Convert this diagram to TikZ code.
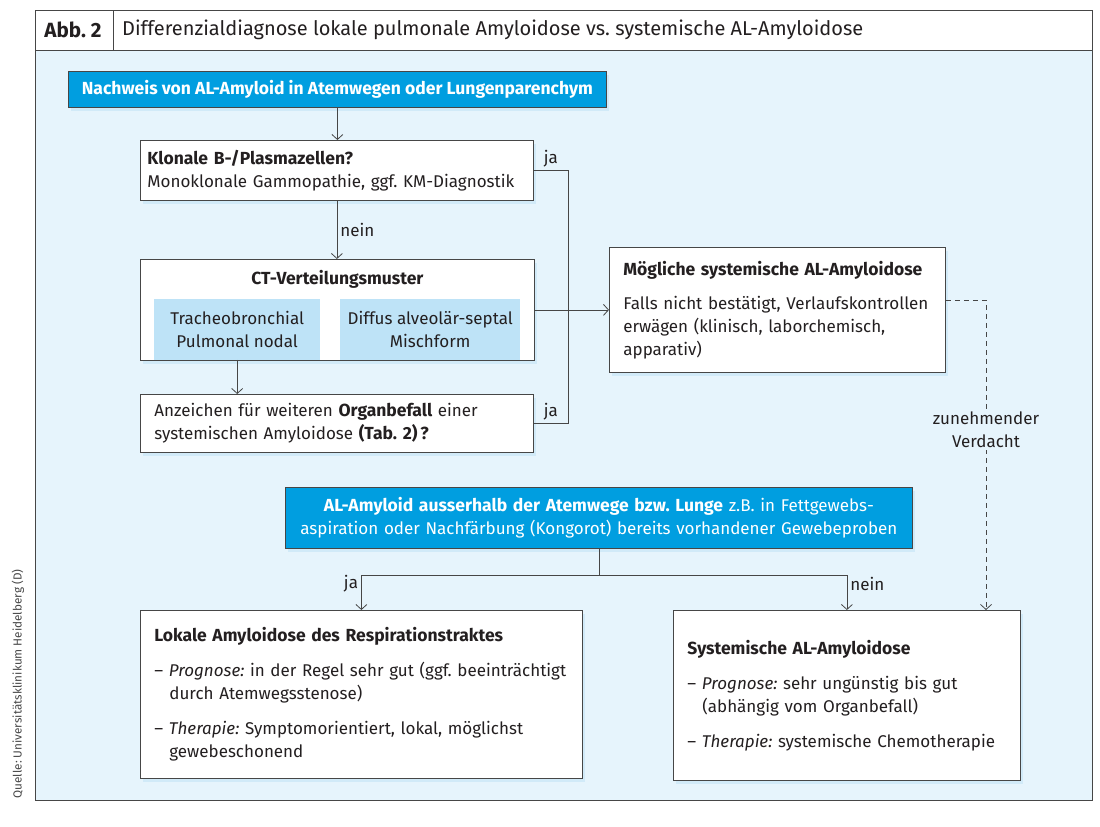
\documentclass[tikz,border=0pt]{standalone}
\usepackage{fontspec}
\setmainfont{Fira Sans}[BoldFeatures={Scale=1.03}]
\usetikzlibrary{arrows.meta, shadows}
\frenchspacing

\definecolor{bgblue}{RGB}{230,244,252}
\definecolor{boxblue}{RGB}{0,158,224}
\definecolor{innerblue}{RGB}{190,227,247}
\definecolor{shadowblue}{RGB}{190,225,245}
\definecolor{linegray}{RGB}{70,70,70}
\definecolor{txtgray}{RGB}{35,31,32}

\begin{document}
\begin{tikzpicture}[x=1pt, y=-1pt,
  >={Straight Barb[length=5pt, width=11pt]},
  every node/.style={font=\fontsize{17}{23}\selectfont, text=txtgray},
  box/.style={draw=linegray, fill=white, line width=0.8pt, anchor=north west,
    inner xsep=14pt, align=left,
    drop shadow={fill=shadowblue, shadow xshift=3pt, shadow yshift=-4pt}},
  bluebox/.style={box, fill=boxblue, text=white},
  innerbox/.style={fill=innerblue, anchor=north west, align=center, inner sep=0pt},
  conn/.style={draw=linegray, line width=0.8pt},
  lbl/.style={inner sep=3pt}
]
\useasboundingbox (0,0) rectangle (1100,827);

% frame and header
\fill[bgblue] (35,50) rectangle (1092,800);
\draw[linegray, line width=0.8pt] (35,10) rectangle (1092,800);
\draw[linegray, line width=0.8pt] (35,50) -- (1092,50);
\draw[linegray, line width=0.8pt] (113,10) -- (113,50);
\node[font=\fontsize{20}{22}\selectfont\bfseries] (abb) at (73,30) {Abb. 2};
\node[font=\fontsize{20}{22}\selectfont, anchor=west, inner xsep=0pt] (title) at (122,30) {Differenzialdiagnose lokale pulmonale Amyloidose vs. systemische AL-Amyloidose};
\node[font=\fontsize{11.7}{13}\selectfont, text=linegray, rotate=90] (quelle) at (18,684) {Quelle: Universitätsklinikum Heidelberg (D)};

% upper part
\node[bluebox, minimum width=538, minimum height=36, inner xsep=7pt, font=\fontsize{17}{23}\selectfont\bfseries] (nachweis) at (68,71) {Nachweis von AL-Amyloid in Atemwegen oder Lungenparenchym};
\node[box, minimum width=393, minimum height=60, inner xsep=7pt, text width=379pt] (klon) at (140,140) {\textbf{Klonale B-/Plasmazellen?}\\Monoklonale Gammopathie, ggf. KM-Diagnostik};
\node[box, minimum width=394, minimum height=101] (ct) at (140,259) {};
\node[anchor=north, font=\fontsize{17}{23}\selectfont\bfseries] (cttitle) at ([yshift=-8pt]ct.north) {CT-Verteilungsmuster};
\node[innerbox, minimum width=166, minimum height=60.5] (tb) at (154,299) {Tracheobronchial\\Pulmonal nodal};
\node[innerbox, minimum width=180, minimum height=60.5] (da) at (340,299) {Diffus alveolär-septal\\Mischform};
\node[box, minimum width=393, minimum height=58, text width=365pt] (anz) at (140,394) {Anzeichen für weiteren \textbf{Organbefall} einer\\systemischen Amyloidose \textbf{(Tab. 2)\,?}};
\node[box, minimum width=336, minimum height=125, text width=308pt] (moeg) at (609,247) {\textbf{Mögliche systemische AL-Amyloidose}\\[11pt]Falls nicht bestätigt, Verlaufskontrollen\\erwägen (klinisch, laborchemisch,\\apparativ)};

% lower part
\node[bluebox, minimum width=627, minimum height=61, inner xsep=7pt, text width=613pt, align=center] (al) at (285,487) {\textbf{AL-Amyloid ausserhalb der Atemwege bzw. Lunge} z.B. in Fettgewebs-\\aspiration oder Nachfärbung (Kongorot) bereits vorhandener Gewebeproben};
\node[box, minimum width=442, minimum height=168, text width=414pt] (lok) at (140,610) {\textbf{Lokale Amyloidose des Respirationstraktes}\\[12pt]– \textit{Prognose:} in der Regel sehr gut (ggf. beeinträchtigt\\\hspace*{15pt}durch Atemwegsstenose)\\[12pt]– \textit{Therapie:} Symptomorientiert, lokal, möglichst\\\hspace*{15pt}gewebeschonend};
\node[box, minimum width=347, minimum height=170, text width=319pt] (sys) at (673,610) {\textbf{Systemische AL-Amyloidose}\\[12pt]– \textit{Prognose:} sehr ungünstig bis gut\\\hspace*{15pt}(abhängig vom Organbefall)\\[12pt]– \textit{Therapie:} systemische Chemotherapie};

% connectors
\coordinate (jax) at (568,0);
\coordinate (dturn) at (986,300);
\draw[conn, ->] (nachweis.south) -- (nachweis.south |- klon.north);
\draw[conn, ->] (klon.south) -- (klon.south |- ct.north) node[lbl, right, pos=.5]{nein};
\draw[conn] (klon.east) -- (klon.east -| jax) node[lbl, above, pos=.5]{ja} -- (anz.east -| jax) -- (anz.east) node[lbl, above, pos=.5]{ja};
\draw[conn, ->] (ct.east) -- (moeg.west);
\draw[conn, ->] (tb.south) -- (tb.south |- anz.north);
\draw[conn, dash pattern=on 5pt off 4pt, ->] (moeg.east |- dturn) -- (dturn) -- (dturn |- sys.north);
\node[fill=bgblue, align=center, inner sep=2pt] (verdacht) at (986,430) {zunehmender\\Verdacht};
\draw[conn, ->] (al.south) -- ++(0,27) -| node[lbl, left, pos=.62]{ja} (lok.north);
\draw[conn, ->] (al.south) -- ++(0,27) -| node[lbl, right, pos=.62]{nein} (sys.north);
\end{tikzpicture}
\end{document}
